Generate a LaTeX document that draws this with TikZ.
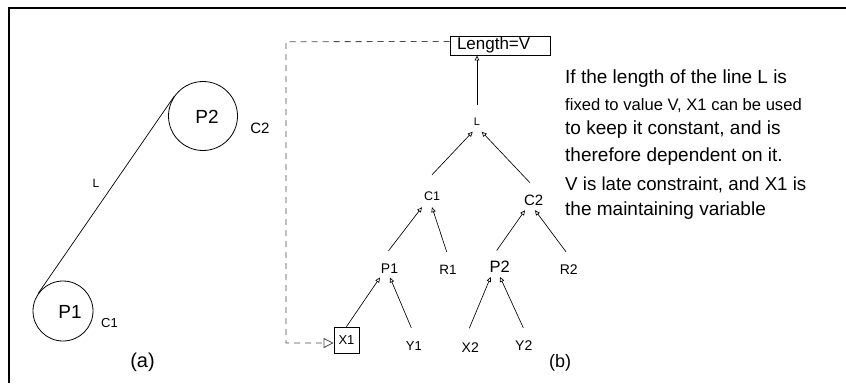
\documentclass[tikz,border=0pt]{standalone}
\usepackage{fontspec}
\setmainfont{Liberation Sans}
\usetikzlibrary{arrows.meta}
\newcommand\fsz[1]{\fontsize{#1pt}{#1pt}\selectfont}
\begin{document}
\begin{tikzpicture}[x=1pt,y=-1pt,
  tl/.style={anchor=base, inner sep=0pt, text height=22pt, text depth=5pt},
  dep/.style={line width=0.65pt, -{Triangle[open,length=5pt,width=4.5pt]}},
  dline/.style={dash pattern=on 6pt off 5pt, draw=black!70, line width=0.8pt},
  circ/.style={circle, draw, line width=0.8pt, inner sep=0pt},
  para/.style={anchor=base west, inner sep=0pt}]
\useasboundingbox (0,0) rectangle (846,383);

% frame
\draw[line width=1.5pt] (846,8) -- (9,8) -- (9,383);

% (a) two circles joined by the line L
\node[circ, minimum size=69pt] (cb) at (203,116) {};
\node[circ, minimum size=60pt] (ca) at (63,311) {};
\draw[line width=0.7pt] (ca.145) -- (cb.145);
\node[font=\fsz{19}] (pb) at (207,117) {P2};
\node[font=\fsz{15}] (kb) at (260,128) {C2};
\node[font=\fsz{19}] (pa) at (70,312) {P1};
\node[font=\fsz{13}] (ka) at (109.5,323) {C1};
\node[font=\fsz{12}] (ll) at (96,183) {L};
\node[font=\fsz{20}] (la) at (142.5,362) {(a)};

% (b) dependency tree
\node[draw, line width=0.8pt, font=\fsz{17}, text width=86pt, align=left,
      inner xsep=7pt, inner ysep=1pt, minimum height=19pt] (lv) at (500,45.5) {Length=V};
\node[tl, font=\fsz{11}, text height=20pt, text depth=6.5pt] (lt) at (477,125) {L};
\node[tl, font=\fsz{12.5}, text height=25pt, text depth=7pt] (c1t) at (432,200) {C1};
\node[tl, font=\fsz{15}] (c2t) at (533.7,205) {C2};
\node[tl, font=\fsz{14}, text depth=4.3pt] (p1t) at (389.5,273) {P1};
\node[tl, font=\fsz{13.5}] (r1t) at (448,274) {R1};
\node[tl, font=\fsz{16.5}, text depth=4pt] (p2t) at (499.7,272.7) {P2};
\node[tl, font=\fsz{14}] (r2t) at (568.7,274) {R2};
\node[draw, line width=0.8pt, font=\fsz{13}, minimum width=25pt, minimum height=26pt,
      inner sep=0pt] (x1) at (346.5,340) {X1};
\node[tl, font=\fsz{13}] (y1t) at (413.8,350) {Y1};
\node[tl, font=\fsz{14}, text height=23.5pt] (x2t) at (470.3,352) {X2};
\node[tl, font=\fsz{14}] (y2t) at (523.8,350) {Y2};
\node[font=\fsz{18}] (lb) at (560,362.5) {(b)};

\draw[dep] (x1.north) -- ([xshift=-9.5pt]p1t.south);
\draw[dep] ([xshift=-2.5pt]y1t.north) -- ([xshift=0.5pt]p1t.south);
\draw[dep] ([xshift=-1pt]x2t.north) -- ([xshift=-9pt]p2t.south);
\draw[dep] ([xshift=-0.5pt]y2t.north) -- ([xshift=0.3pt]p2t.south);
\draw[dep] ([xshift=-1pt]p1t.north) -- ([xshift=-10pt]c1t.south);
\draw[dep] ([xshift=-1.3pt]r1t.north) -- (c1t.south);
\draw[dep] ([xshift=-3pt]p2t.north) -- ([xshift=-8.7pt]c2t.south);
\draw[dep] ([xshift=-2.7pt]r2t.north) -- ([xshift=1.3pt]c2t.south);
\draw[dep] (c1t.north) -- ([xshift=-4.3pt]lt.south);
\draw[dep] ([xshift=-3.7pt]c2t.north) -- ([xshift=4.7pt]lt.south);
\draw[dep] (lt.north) -- (lt.north |- lv.south);

% late constraint feeding back to the maintaining variable
\coordinate (dtop) at (286,41.7);
\coordinate (dbot) at (286,343);
\draw[dline, -{Triangle[open,length=10pt,width=10pt]}]
  ([yshift=4pt]lv.west) -- (dtop) -- (dbot) -- (dbot -| x1.west);

% explanation
\node[para, font=\fsz{19}] (t1) at (565,83) {If the length of the line L is};
\node[para, font=\fsz{16.6}] (t2) at (565,110) {fixed to value V, X1 can be used};
\node[para, font=\fsz{19}] (t3) at (565,134) {to keep it constant, and is};
\node[para, font=\fsz{19}] (t4) at (565,161.7) {therefore dependent on it.};
\node[para, font=\fsz{18.7}] (t5) at (565,190.5) {V is late constraint, and X1 is};
\node[para, font=\fsz{19}] (t6) at (565,215) {the maintaining variable};
\end{tikzpicture}
\end{document}
